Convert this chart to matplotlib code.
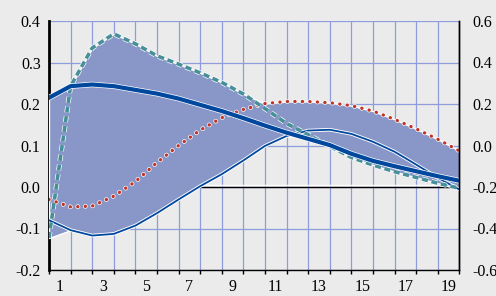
import numpy as np
import matplotlib
matplotlib.use('Agg')
import matplotlib.pyplot as plt
import matplotlib.patheffects as pe
from matplotlib.ticker import FixedLocator, FixedFormatter

plt.rcParams['font.family'] = ['Liberation Serif', 'DejaVu Serif']
plt.rcParams['axes.unicode_minus'] = False

# horizon index 0..19, labels 1..19 sit in the intervals
steps = np.arange(20)
tick_labels = ['1', '3', '5', '7', '9', '11', '13', '15', '17', '19']

thick = [0.215, 0.243, 0.247, 0.243, 0.234, 0.225, 0.213, 0.198, 0.183, 0.166,
         0.148, 0.131, 0.116, 0.101, 0.080, 0.063, 0.050, 0.038, 0.026, 0.015]
thin = [-0.080, -0.104, -0.117, -0.113, -0.093, -0.063, -0.030, 0.002, 0.031, 0.064,
        0.099, 0.123, 0.136, 0.138, 0.128, 0.109, 0.085, 0.054, 0.022, -0.006]
dashed = [-0.123, 0.243, 0.335, 0.369, 0.345, 0.316, 0.296, 0.275, 0.252, 0.224,
          0.189, 0.153, 0.126, 0.098, 0.071, 0.053, 0.037, 0.023, 0.009, -0.003]
dotted = [-0.030, -0.048, -0.046, -0.022, 0.013, 0.059, 0.100, 0.137, 0.167, 0.187,
          0.201, 0.206, 0.206, 0.203, 0.196, 0.183, 0.163, 0.140, 0.115, 0.087]

left_ticks = [-0.2, -0.1, 0.0, 0.1, 0.2, 0.3, 0.4]
right_ticks = [-0.6, -0.4, -0.2, 0.0, 0.2, 0.4, 0.6]

bg = '#EBEBEB'
grid_c = '#8E9CDC'
fill_c = '#8896C8'
blue = '#00479E'
teal = '#47909A'
red = '#BE3428'

fig = plt.figure(figsize=(4.96, 2.96), dpi=100, facecolor=bg)
ax = fig.add_axes([49 / 496, 1 - 270 / 296, 410.4 / 496, 249 / 296])
ax.set_facecolor(bg)

allv = np.vstack([thick, thin, dashed, dotted])
ax.fill_between(steps, allv.min(axis=0), allv.max(axis=0), facecolor=fill_c,
                edgecolor='white', linewidth=1.0, zorder=2)

halo = lambda w: [pe.Stroke(linewidth=w, foreground='white'), pe.Normal()]
ax.plot(steps, thin, color=blue, lw=1.3, zorder=3, path_effects=halo(2.6))
ax.plot(steps, dotted, color=red, lw=2.4, linestyle=(0, (0.05, 2.2)),
        dash_capstyle='round', zorder=3, path_effects=halo(3.4))
ax.plot(steps, dashed, color=teal, lw=2.6, linestyle=(0, (1.7, 1.0)), zorder=3,
        path_effects=halo(3.6))
ax.plot(steps, thick, color=blue, lw=3.0, zorder=4, path_effects=halo(4.0))

# zero line: black with a thin white line just above
ax.axhline(0, color='black', lw=1.0, zorder=1,
           path_effects=[pe.Stroke(offset=(0, 1.2), linewidth=1.0, foreground='white'),
                         pe.Normal()])

ax.set_xlim(0, 19)
ax.set_ylim(-0.2, 0.4)
ax.set_yticks(left_ticks)
ax.set_yticklabels(['%.1f' % v for v in left_ticks])
ax.xaxis.set_major_locator(FixedLocator(list(range(20))))
ax.xaxis.set_major_formatter(FixedFormatter([''] * 20))
ax.xaxis.set_minor_locator(FixedLocator([i + 0.5 for i in range(0, 19, 2)]))
ax.xaxis.set_minor_formatter(FixedFormatter(tick_labels))
ax.tick_params(axis='x', which='major', direction='out', length=3, width=1, color='black')
ax.tick_params(axis='x', which='minor', length=0, pad=6.5, labelsize=11.5)
ax.tick_params(axis='y', length=0, pad=6, labelsize=11.5)

ax.set_axisbelow(True)
ax.grid(True, which='major', color=grid_c, lw=0.9)

ax.spines['top'].set_visible(False)
ax.spines['left'].set_linewidth(2)
ax.spines['left'].set_zorder(1.5)
ax.spines['bottom'].set_linewidth(1)
ax.spines['right'].set_linewidth(1)

ax2 = ax.twinx()
ax2.set_ylim(-0.6, 0.6)
ax2.set_yticks(right_ticks)
ax2.set_yticklabels(['%.1f' % v for v in right_ticks])
ax2.tick_params(axis='y', length=0, pad=9, labelsize=11.5)
for s in ['top', 'left', 'bottom']:
    ax2.spines[s].set_visible(False)
ax2.spines['right'].set_linewidth(1)

fig.savefig('out.png', dpi=100, facecolor=bg)
